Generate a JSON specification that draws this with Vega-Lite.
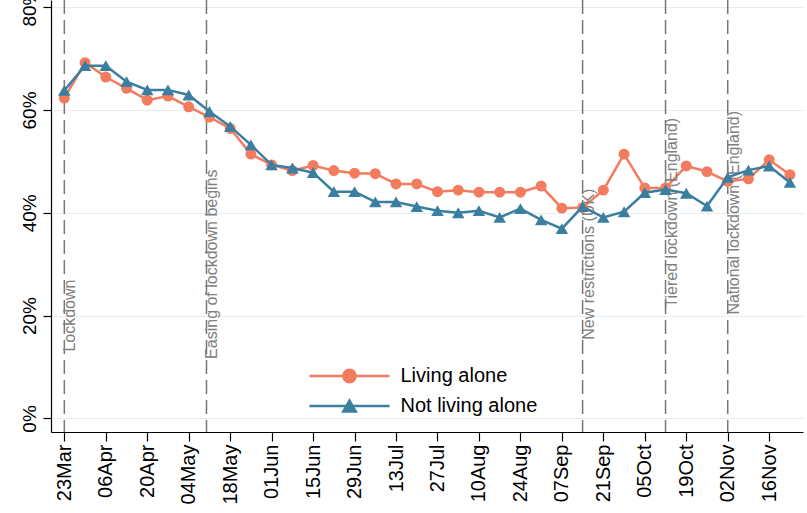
{
  "$schema": "https://vega.github.io/schema/vega-lite/v6.json",
  "width": 752,
  "height": 432,
  "autosize": {"type": "none"},
  "padding": {"left": 51, "top": 0, "right": 4, "bottom": 81},
  "background": "white",
  "datasets": {
    "series": [
      {"date": "2020-03-23T00:00:00", "series": "Living alone", "pct": 62.3},
      {"date": "2020-03-30T00:00:00", "series": "Living alone", "pct": 69.2},
      {"date": "2020-04-06T00:00:00", "series": "Living alone", "pct": 66.4},
      {"date": "2020-04-13T00:00:00", "series": "Living alone", "pct": 64.2},
      {"date": "2020-04-20T00:00:00", "series": "Living alone", "pct": 61.9},
      {"date": "2020-04-27T00:00:00", "series": "Living alone", "pct": 62.7},
      {"date": "2020-05-04T00:00:00", "series": "Living alone", "pct": 60.6},
      {"date": "2020-05-11T00:00:00", "series": "Living alone", "pct": 58.6},
      {"date": "2020-05-18T00:00:00", "series": "Living alone", "pct": 56.4},
      {"date": "2020-05-25T00:00:00", "series": "Living alone", "pct": 51.4},
      {"date": "2020-06-01T00:00:00", "series": "Living alone", "pct": 49.3},
      {"date": "2020-06-08T00:00:00", "series": "Living alone", "pct": 48.2},
      {"date": "2020-06-15T00:00:00", "series": "Living alone", "pct": 49.2},
      {"date": "2020-06-22T00:00:00", "series": "Living alone", "pct": 48.2},
      {"date": "2020-06-29T00:00:00", "series": "Living alone", "pct": 47.7},
      {"date": "2020-07-06T00:00:00", "series": "Living alone", "pct": 47.6},
      {"date": "2020-07-13T00:00:00", "series": "Living alone", "pct": 45.6},
      {"date": "2020-07-20T00:00:00", "series": "Living alone", "pct": 45.6},
      {"date": "2020-07-27T00:00:00", "series": "Living alone", "pct": 44.1},
      {"date": "2020-08-03T00:00:00", "series": "Living alone", "pct": 44.4},
      {"date": "2020-08-10T00:00:00", "series": "Living alone", "pct": 44.0},
      {"date": "2020-08-17T00:00:00", "series": "Living alone", "pct": 44.0},
      {"date": "2020-08-24T00:00:00", "series": "Living alone", "pct": 44.0},
      {"date": "2020-08-31T00:00:00", "series": "Living alone", "pct": 45.2},
      {"date": "2020-09-07T00:00:00", "series": "Living alone", "pct": 40.9},
      {"date": "2020-09-14T00:00:00", "series": "Living alone", "pct": 41.0},
      {"date": "2020-09-21T00:00:00", "series": "Living alone", "pct": 44.4},
      {"date": "2020-09-28T00:00:00", "series": "Living alone", "pct": 51.4},
      {"date": "2020-10-05T00:00:00", "series": "Living alone", "pct": 44.8},
      {"date": "2020-10-12T00:00:00", "series": "Living alone", "pct": 44.8},
      {"date": "2020-10-19T00:00:00", "series": "Living alone", "pct": 49.1},
      {"date": "2020-10-26T00:00:00", "series": "Living alone", "pct": 48.0},
      {"date": "2020-11-02T00:00:00", "series": "Living alone", "pct": 46.1},
      {"date": "2020-11-09T00:00:00", "series": "Living alone", "pct": 46.6},
      {"date": "2020-11-16T00:00:00", "series": "Living alone", "pct": 50.3},
      {"date": "2020-11-23T00:00:00", "series": "Living alone", "pct": 47.4},
      {"date": "2020-03-23T00:00:00", "series": "Not living alone", "pct": 63.8},
      {"date": "2020-03-30T00:00:00", "series": "Not living alone", "pct": 68.6},
      {"date": "2020-04-06T00:00:00", "series": "Not living alone", "pct": 68.6},
      {"date": "2020-04-13T00:00:00", "series": "Not living alone", "pct": 65.5},
      {"date": "2020-04-20T00:00:00", "series": "Not living alone", "pct": 63.9},
      {"date": "2020-04-27T00:00:00", "series": "Not living alone", "pct": 63.9},
      {"date": "2020-05-04T00:00:00", "series": "Not living alone", "pct": 62.9},
      {"date": "2020-05-11T00:00:00", "series": "Not living alone", "pct": 59.7},
      {"date": "2020-05-18T00:00:00", "series": "Not living alone", "pct": 56.8},
      {"date": "2020-05-25T00:00:00", "series": "Not living alone", "pct": 53.2},
      {"date": "2020-06-01T00:00:00", "series": "Not living alone", "pct": 49.3},
      {"date": "2020-06-08T00:00:00", "series": "Not living alone", "pct": 48.7},
      {"date": "2020-06-15T00:00:00", "series": "Not living alone", "pct": 47.8},
      {"date": "2020-06-22T00:00:00", "series": "Not living alone", "pct": 44.1},
      {"date": "2020-06-29T00:00:00", "series": "Not living alone", "pct": 44.1},
      {"date": "2020-07-06T00:00:00", "series": "Not living alone", "pct": 42.1},
      {"date": "2020-07-13T00:00:00", "series": "Not living alone", "pct": 42.1},
      {"date": "2020-07-20T00:00:00", "series": "Not living alone", "pct": 41.2},
      {"date": "2020-07-27T00:00:00", "series": "Not living alone", "pct": 40.4},
      {"date": "2020-08-03T00:00:00", "series": "Not living alone", "pct": 40.0},
      {"date": "2020-08-10T00:00:00", "series": "Not living alone", "pct": 40.4},
      {"date": "2020-08-17T00:00:00", "series": "Not living alone", "pct": 39.1},
      {"date": "2020-08-24T00:00:00", "series": "Not living alone", "pct": 40.8},
      {"date": "2020-08-31T00:00:00", "series": "Not living alone", "pct": 38.6},
      {"date": "2020-09-07T00:00:00", "series": "Not living alone", "pct": 36.9},
      {"date": "2020-09-14T00:00:00", "series": "Not living alone", "pct": 41.2},
      {"date": "2020-09-21T00:00:00", "series": "Not living alone", "pct": 39.1},
      {"date": "2020-09-28T00:00:00", "series": "Not living alone", "pct": 40.2},
      {"date": "2020-10-05T00:00:00", "series": "Not living alone", "pct": 43.9},
      {"date": "2020-10-12T00:00:00", "series": "Not living alone", "pct": 44.5},
      {"date": "2020-10-19T00:00:00", "series": "Not living alone", "pct": 43.8},
      {"date": "2020-10-26T00:00:00", "series": "Not living alone", "pct": 41.3},
      {"date": "2020-11-02T00:00:00", "series": "Not living alone", "pct": 46.9},
      {"date": "2020-11-09T00:00:00", "series": "Not living alone", "pct": 48.3},
      {"date": "2020-11-16T00:00:00", "series": "Not living alone", "pct": 49.1},
      {"date": "2020-11-23T00:00:00", "series": "Not living alone", "pct": 45.9}
    ],
    "events": [
      {"date": "2020-03-23T00:00:00", "label": "Lockdown"},
      {"date": "2020-05-10T00:00:00", "label": "Easing of lockdown begins"},
      {"date": "2020-09-14T00:00:00", "label": "New restrictions (UK)"},
      {"date": "2020-10-12T00:00:00", "label": "Tiered lockdown (England)"},
      {"date": "2020-11-02T00:00:00", "label": "National lockdown (England)"}
    ]
  },
  "encoding": {
    "x": {
      "field": "date",
      "type": "temporal",
      "scale": {
        "domain": [
          {"year": 2020, "month": 3, "date": 18, "hours": 12},
          {"year": 2020, "month": 11, "date": 27, "hours": 10}
        ],
        "nice": false
      },
      "axis": {
        "title": null,
        "values": [
          {"year": 2020, "month": 3, "date": 23},
          {"year": 2020, "month": 4, "date": 6},
          {"year": 2020, "month": 4, "date": 20},
          {"year": 2020, "month": 5, "date": 4},
          {"year": 2020, "month": 5, "date": 18},
          {"year": 2020, "month": 6, "date": 1},
          {"year": 2020, "month": 6, "date": 15},
          {"year": 2020, "month": 6, "date": 29},
          {"year": 2020, "month": 7, "date": 13},
          {"year": 2020, "month": 7, "date": 27},
          {"year": 2020, "month": 8, "date": 10},
          {"year": 2020, "month": 8, "date": 24},
          {"year": 2020, "month": 9, "date": 7},
          {"year": 2020, "month": 9, "date": 21},
          {"year": 2020, "month": 10, "date": 5},
          {"year": 2020, "month": 10, "date": 19},
          {"year": 2020, "month": 11, "date": 2},
          {"year": 2020, "month": 11, "date": 16}
        ],
        "format": "%d%b",
        "labelAngle": -90,
        "labelFontSize": 20,
        "labelFont": "Liberation Sans",
        "labelColor": "#000000",
        "labelPadding": 3,
        "labelOverlap": false,
        "labelFlush": false,
        "tickSize": 9,
        "tickColor": "#000000",
        "tickWidth": 1.2,
        "domainColor": "#000000",
        "domainWidth": 1.2,
        "grid": false
      }
    }
  },
  "layer": [
    {
      "data": {"name": "events"},
      "mark": {"type": "rule", "color": "#777777", "strokeWidth": 1.5, "strokeDash": [14, 6]},
      "encoding": {}
    },
    {
      "data": {"name": "series"},
      "transform": [{"filter": "datum.series === 'Living alone'"}],
      "mark": {"type": "line", "strokeWidth": 2.5},
      "encoding": {
        "y": {
          "field": "pct",
          "type": "quantitative",
          "scale": {"domain": [-2.64, 81.38], "nice": false, "zero": false},
          "axis": {
            "title": null,
            "values": [0, 20, 40, 60, 80],
            "labelExpr": "datum.value + '%'",
            "labelAngle": -90,
            "labelFontSize": 19,
            "labelFont": "Liberation Sans",
            "labelColor": "#000000",
            "labelPadding": 4,
            "tickSize": 8,
            "tickColor": "#000000",
            "tickWidth": 1.2,
            "domainColor": "#000000",
            "domainWidth": 1.2,
            "grid": true,
            "gridColor": "#e4edf2",
            "gridWidth": 1
          }
        },
        "color": {"field": "series", "type": "nominal", "legend": null}
      }
    },
    {
      "data": {"name": "events"},
      "transform": [{"filter": {"field": "label", "oneOf": ["Lockdown"]}}],
      "mark": {"type": "text", "angle": 270, "align": "center", "baseline": "alphabetic", "dy": 11, "fontSize": 16, "color": "#808080", "font": "Liberation Sans"},
      "encoding": {"y": {"datum": 20, "type": "quantitative"}, "text": {"field": "label"}}
    },
    {
      "data": {"name": "events"},
      "transform": [{"filter": {"field": "label", "oneOf": ["Easing of lockdown begins", "New restrictions (UK)"]}}],
      "mark": {"type": "text", "angle": 270, "align": "center", "baseline": "alphabetic", "dy": 11, "fontSize": 16, "color": "#808080", "font": "Liberation Sans"},
      "encoding": {"y": {"datum": 30, "type": "quantitative"}, "text": {"field": "label"}}
    },
    {
      "data": {"name": "events"},
      "transform": [{"filter": {"field": "label", "oneOf": ["Tiered lockdown (England)", "National lockdown (England)"]}}],
      "mark": {"type": "text", "angle": 270, "align": "center", "baseline": "alphabetic", "dy": 11, "fontSize": 16, "color": "#808080", "font": "Liberation Sans"},
      "encoding": {"y": {"datum": 40, "type": "quantitative"}, "text": {"field": "label"}}
    },
    {
      "data": {"name": "series"},
      "transform": [{"filter": "datum.series === 'Living alone'"}],
      "mark": {"type": "point", "shape": "circle", "filled": true, "opacity": 1, "size": 120},
      "encoding": {
        "y": {"field": "pct", "type": "quantitative"},
        "color": {"field": "series", "type": "nominal", "legend": null}
      }
    },
    {
      "data": {"name": "series"},
      "transform": [{"filter": "datum.series === 'Not living alone'"}],
      "mark": {"type": "line", "strokeWidth": 2.5},
      "encoding": {
        "y": {"field": "pct", "type": "quantitative"},
        "color": {"field": "series", "type": "nominal", "legend": null}
      }
    },
    {
      "data": {"name": "series"},
      "transform": [{"filter": "datum.series === 'Not living alone'"}],
      "mark": {"type": "point", "shape": "triangle-up", "filled": true, "opacity": 1, "size": 156},
      "encoding": {
        "y": {"field": "pct", "type": "quantitative"},
        "color": {"field": "series", "type": "nominal", "legend": null}
      }
    },
    {
      "data": {"name": "series"},
      "transform": [{"filter": "datum.pct < -100"}],
      "mark": {"type": "point", "filled": true},
      "encoding": {
        "y": {"field": "pct", "type": "quantitative"},
        "color": {"field": "series", "type": "nominal", "legend": null},
        "shape": {
          "field": "series",
          "type": "nominal",
          "scale": {
            "domain": ["Living alone", "Not living alone"],
            "range": [
              "M-5,0H5M0.77,0A0.77,0.77,0,1,1,-0.77,0A0.77,0.77,0,1,1,0.77,0Z",
              "M-5,0H5M0,-0.68L0.78,0.68L-0.78,0.68Z"
            ]
          },
          "legend": {
            "title": null,
            "orient": "none",
            "legendX": 288.5,
            "legendY": 366,
            "padding": 0,
            "symbolSize": 256,
            "symbolStrokeWidth": 2.5,
            "symbolOpacity": 1,
            "symbolFillColor": {"expr": "datum.value === 'Living alone' ? '#f37b5e' : '#3b7fa0'"},
            "symbolStrokeColor": {"expr": "datum.value === 'Living alone' ? '#f37b5e' : '#3b7fa0'"},
            "labelFontSize": 20,
            "labelFont": "Liberation Sans",
            "labelColor": "#000000",
            "labelOffset": 41,
            "rowPadding": 7
          }
        }
      }
    }
  ],
  "config": {
    "view": {"stroke": null},
    "font": "Liberation Sans",
    "range": {"category": ["#f37b5e", "#3b7fa0"]}
  }
}
